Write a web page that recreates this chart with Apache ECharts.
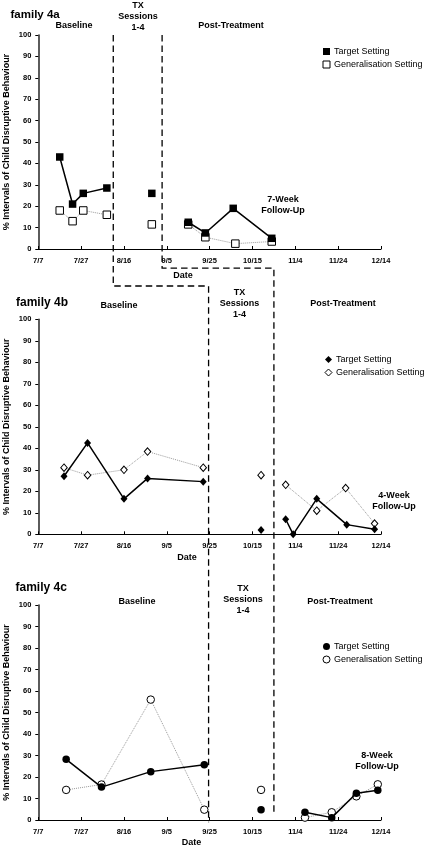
<!DOCTYPE html>
<html>
<head>
<meta charset="utf-8">
<script src="https://cdn.jsdelivr.net/npm/echarts@6/dist/echarts.min.js"></script>
<style>
html,body{margin:0;padding:0;background:#fff;}
#main{width:424px;height:848px;}
</style>
</head>
<body>
<div id="main"></div>
<script>
// X-axis tick labels (days since 7/7, every 20 days)
const dateTicks = ['7/7','7/27','8/16','9/5','9/25','10/15','11/4','11/24','12/14'];

// Family 4a  [day since 7/7, % intervals]
const a_target_baseline = [[10,43],[16,21],[21,26],[32,28.5]];
const a_target_tx       = [[53,26]];
const a_target_post     = [[70,12.5],[78,7.5],[91,19],[109,5]];
const a_gen_baseline    = [[10,18],[16,13],[21,18],[32,16]];
const a_gen_tx          = [[53,11.5]];
const a_gen_post        = [[70,11.5],[78,5.5],[92,2.5],[109,3.5]];

// Family 4b
const b_target_baseline = [[12,27],[23,42.5],[40,16.5],[51,26],[77,24.5]];
const b_target_tx       = [[104,2]];
const b_target_post     = [[115.5,7],[119,0],[130,16.5],[144,4.5],[157,2.3]];
const b_gen_baseline    = [[12,31],[23,27.5],[40,30],[51,38.5],[77,31]];
const b_gen_tx          = [[104,27.5]];
const b_gen_post        = [[115.5,23],[130,11],[143.5,21.5],[157,5]];

// Family 4c
const c_target_baseline = [[13,28.2],[29.5,15.3],[52.5,22.5],[77.5,25.7]];
const c_target_tx       = [[104,4.8]];
const c_target_post     = [[124.5,3.6],[137,1.1],[148.5,12.4],[158.5,13.8]];
const c_gen_baseline    = [[13,14],[29.5,16.5],[52.5,56],[77.5,4.8]];
const c_gen_tx          = [[104,14]];
const c_gen_post        = [[124.5,1.1],[137,3.6],[148.5,11],[158.5,16.6]];

// Phase change dates (days since 7/7)
const phaseA = [35, 57.8];
const phaseBC = [79.5, 110];

const FONT = "'Liberation Sans', Arial, sans-serif";
const chart = echarts.init(document.getElementById('main'), null, {renderer:'canvas'});

const grids = [
  {left:38.3, right:43, top:35, height:214, outerBoundsMode:'none', containLabel:false},
  {left:38.3, right:43, top:319.3, height:215, outerBoundsMode:'none', containLabel:false},
  {left:38.3, right:43, top:605, height:215, outerBoundsMode:'none', containLabel:false}
];

function xAx(i){
  return {
    type:'value', gridIndex:i, min:0, max:160, interval:20,
    axisLine:{lineStyle:{color:'#000', width:1}},
    axisTick:{inside:true, length:3, lineStyle:{color:'#000'}},
    axisLabel:{formatter:v => dateTicks[Math.round(v/20)], color:'#000', fontSize:7.5, fontWeight:'bold', fontFamily:FONT, margin:8},
    splitLine:{show:false}
  };
}
function yAx(i){
  return {
    type:'value', gridIndex:i, min:0, max:100, interval:10,
    name:'% Intervals of Child Disruptive Behaviour', nameLocation:'middle', nameGap:27, nameMoveOverlap:false,
    nameTextStyle:{color:'#000', fontSize:9, fontWeight:'bold', fontFamily:FONT},
    axisLine:{show:true, lineStyle:{color:'#333', width:1.6}},
    axisTick:{show:true, inside:false, length:3, lineStyle:{color:'#000'}},
    axisLabel:{color:'#000', fontSize:7.5, fontWeight:'bold', fontFamily:FONT, margin:7},
    splitLine:{show:false}
  };
}

function tgt(i, data, sym){
  return {name:'Target Setting', type:'line', xAxisIndex:i, yAxisIndex:i, data:data,
    symbol:sym, symbolSize: sym==='diamond'? [7,8] : 7.5, showSymbol:true, animation:false,
    lineStyle:{color:'#000', width:1.5}, itemStyle:{color:'#000', borderColor:'#000', borderWidth:0}, z:3};
}
function gen(i, data, sym){
  return {name:'Generalisation Setting', type:'line', xAxisIndex:i, yAxisIndex:i, data:data,
    symbol:sym, symbolSize: sym==='diamond'? [6.5,7.5] : 7.5, showSymbol:true, animation:false,
    lineStyle:{color:'#999', width:1, type:'dotted'}, itemStyle:{color:'#fff', borderColor:'#000', borderWidth:1}, z:2};
}

const series = [
  gen(0,a_gen_baseline,'rect'), gen(0,a_gen_tx,'rect'), gen(0,a_gen_post,'rect'),
  tgt(0,a_target_baseline,'rect'), tgt(0,a_target_tx,'rect'), tgt(0,a_target_post,'rect'),
  gen(1,b_gen_baseline,'diamond'), gen(1,b_gen_tx,'diamond'), gen(1,b_gen_post,'diamond'),
  tgt(1,b_target_baseline,'diamond'), tgt(1,b_target_tx,'diamond'), tgt(1,b_target_post,'diamond'),
  gen(2,c_gen_baseline,'circle'), gen(2,c_gen_tx,'circle'), gen(2,c_gen_post,'circle'),
  tgt(2,c_target_baseline,'circle'), tgt(2,c_target_tx,'circle'), tgt(2,c_target_post,'circle')
];

function legend(left, top, icon){
  return {
    left:left, top:top, orient:'vertical', itemWidth:7, itemHeight:7, itemGap:4, selectedMode:false,
    textStyle:{color:'#000', fontSize:9, fontFamily:FONT, padding:[0,0,0,-1]},
    data:[
      {name:'Target Setting', icon:icon, itemStyle:{color:'#000', borderWidth:0}},
      {name:'Generalisation Setting', icon:icon, itemStyle:{color:'#fff', borderColor:'#000', borderWidth:1}}
    ]
  };
}

chart.setOption({
  animation:false,
  backgroundColor:'#fff',
  grid:grids,
  xAxis:[xAx(0), xAx(1), xAx(2)],
  yAxis:[yAx(0), yAx(1), yAx(2)],
  legend:[legend(317.5, 42, 'rect'), legend(319.5, 350, 'diamond'), legend(317.5, 637, 'circle')],
  series:series
});

const P = (g, x, y) => chart.convertToPixel({gridIndex:g}, [x, y]);

// Phase-change dashed lines, stepping between panels
const l1a = P(0, phaseA[0], 100), l1b = P(0, phaseA[0], -17.3);
const l1c = P(1, phaseBC[0], 100), l1d = P(2, phaseBC[0], -1);
const l2a = P(0, phaseA[1], 100), l2b = P(0, phaseA[1], -8.9);
const l2c = P(1, phaseBC[1], 100), l2d = P(2, phaseBC[1], 2);

const dashStyle = {stroke:'#000', lineWidth:1.3, lineDash:[6.5,4], fill:null};
function txt(x, y, text, size, bold){
  return {type:'text', silent:true, z:10, style:{x:x, y:y, text:text, textAlign:'center', textVerticalAlign:'middle',
    font:(bold?'bold ':'') + size + 'px ' + FONT, fill:'#000', lineHeight:Math.round(size*1.2)}};
}
function txtL(x, y, text, size){
  return {type:'text', silent:true, z:10, style:{x:x, y:y, text:text, textAlign:'left', textVerticalAlign:'middle',
    font:'bold ' + size + 'px ' + FONT, fill:'#000'}};
}

chart.setOption({
  graphic:[
    {type:'polyline', silent:true, z:1, shape:{points:[l1a, l1b, [l1c[0], l1b[1]], [l1d[0], l1d[1]]]}, style:dashStyle},
    {type:'polyline', silent:true, z:1, shape:{points:[l2a, l2b, [l2c[0], l2b[1]], [l2d[0], l2d[1]]]}, style:dashStyle},
    // Panel A
    txtL(10.5, 14.5, 'family 4a', 11.5),
    txt(74, 26, 'Baseline', 9, true),
    txt(138, 17, 'TX\nSessions\n1-4', 9, true),
    txt(231, 26, 'Post-Treatment', 9, true),
    txt(283, 205.5, '7-Week\nFollow-Up', 9, true),
    txt(183, 276, 'Date', 9, true),
    // Panel B
    txtL(16, 303, 'family 4b', 12),
    txt(119, 305.5, 'Baseline', 9, true),
    txt(239.5, 303.5, 'TX\nSessions\n1-4', 9, true),
    txt(343, 304, 'Post-Treatment', 9, true),
    txt(394, 501.5, '4-Week\nFollow-Up', 9, true),
    txt(187, 557.5, 'Date', 9, true),
    // Panel C
    txtL(15.5, 588, 'family 4c', 12),
    txt(137, 602, 'Baseline', 9, true),
    txt(243, 599.5, 'TX\nSessions\n1-4', 9, true),
    txt(340, 602, 'Post-Treatment', 9, true),
    txt(377, 761, '8-Week\nFollow-Up', 9, true),
    txt(191.5, 843, 'Date', 9, true)
  ]
});
</script>
</body>
</html>
